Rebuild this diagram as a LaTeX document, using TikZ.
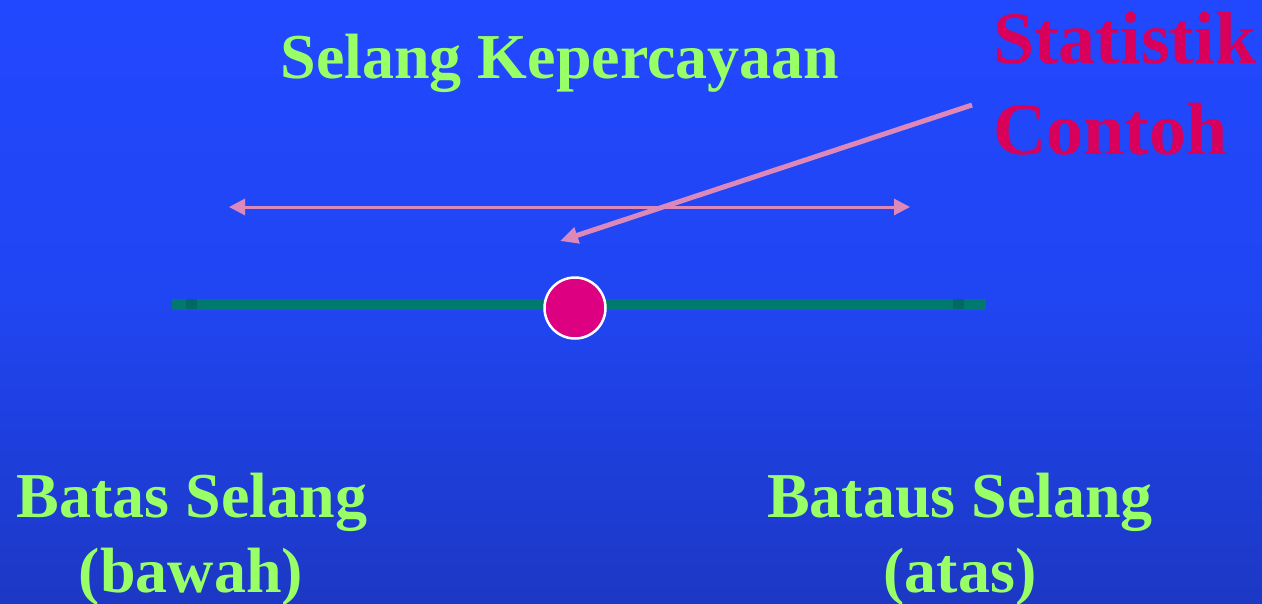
\documentclass[tikz,border=0pt]{standalone}
\usepackage{fontspec}
\setmainfont{Liberation Serif}
\usetikzlibrary{arrows.meta}
\definecolor{bgtop}{HTML}{2248FF}
\definecolor{bgmid}{HTML}{2045F2}
\definecolor{bgbot}{HTML}{1C38C4}
\definecolor{lgreen}{HTML}{99FF66}
\definecolor{magred}{HTML}{D8005A}
\definecolor{pinkarrow}{HTML}{DD88BB}
\definecolor{teal}{HTML}{007A6E}
\definecolor{darkteal}{HTML}{006A62}
\definecolor{dotfill}{HTML}{DD0080}
\tikzset{
  greentext/.style={text=lgreen, font=\bfseries\fontsize{64}{75}\selectfont, align=center, inner sep=0pt},
  redtext/.style={text=magred, font=\bfseries\fontsize{74}{91}\selectfont, align=left, inner sep=0pt},
  pinkline/.style={draw=pinkarrow},
}
\begin{document}
\begin{tikzpicture}[x=1pt,y=-1pt]
\shade[top color=bgtop, bottom color=bgbot, middle color=bgmid] (0,0) rectangle (1262,603);
\useasboundingbox (0,0) rectangle (1262,603);
% title
\node[greentext, anchor=base] (title) at (560,78) {Selang Kepercayaan};
% red label
\node[redtext, anchor=base west] (stat) at (993,63) {Statistik};
\node[redtext, anchor=base west] (cont) at (993,154) {Contoh};
% bottom labels
\node[greentext, anchor=base] (lowA) at (192,517) {Batas Selang};
\node[greentext, anchor=base] (lowB) at (191,592) {(bawah)};
\node[greentext, anchor=base] (upA) at (960,517) {Bataus Selang};
\node[greentext, anchor=base] (upB) at (960,592) {(atas)};
% green bar
\coordinate (barL) at (172,304);
\coordinate (barR) at (986,304);
\draw[teal, line width=11pt] (barL) -- (barR);
\fill[darkteal] (186,299) rectangle (197,309);
\fill[darkteal] (953,299) rectangle (964,309);
% horizontal double arrow
\coordinate (hL) at (229,207);
\coordinate (hR) at (910,207);
\draw[pinkline, line width=3pt, {Triangle[length=16pt,width=16pt]}-{Triangle[length=16pt,width=16pt]}] (hL) -- (hR);
% diagonal arrow
\coordinate (dS) at (972,105);
\coordinate (dE) at (560,241);
\draw[pinkline, line width=5pt, -{Triangle[length=18pt,width=16pt]}] (dS) -- (dE);
% dot
\node[circle, fill=dotfill, draw=white, line width=2.5pt, minimum size=61pt, inner sep=0pt] (dot) at (575,308) {};
\end{tikzpicture}
\end{document}
